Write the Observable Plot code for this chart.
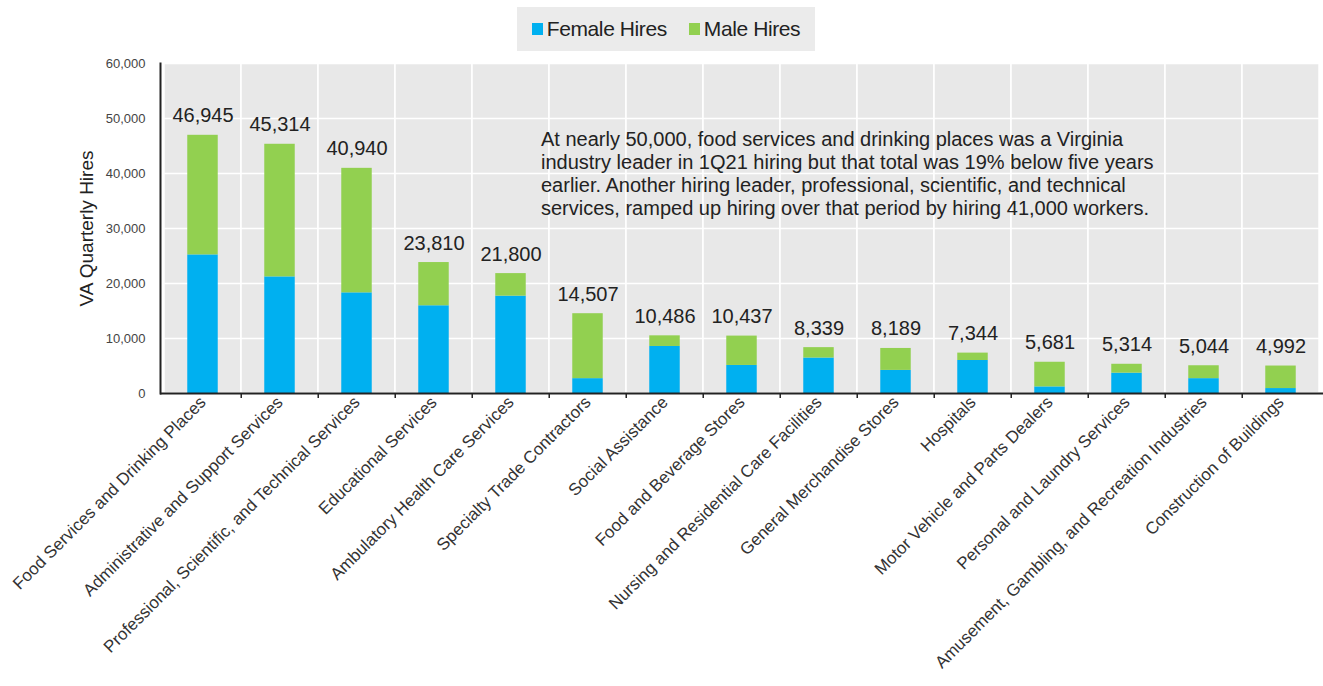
<!DOCTYPE html>
<html>
<head>
<meta charset="utf-8">
<script src="https://cdn.jsdelivr.net/npm/d3@7"></script>
<script src="https://cdn.jsdelivr.net/npm/@observablehq/plot@0.6"></script>
<style>
  html, body { margin: 0; padding: 0; background: #fff; }
  body { width: 1323px; height: 686px; position: relative; overflow: hidden; font-family: "Liberation Sans", Arial, sans-serif; }
  #legend { position: absolute; left: 517px; top: 7px; width: 298px; height: 44px; background: #ebebeb; display: flex; align-items: center; justify-content: center; font-size: 21px; color: #222; letter-spacing: -0.4px; }
  #legend .sw { display: inline-block; width: 11px; height: 12px; margin-right: 4px; }
  #legend .item { display: flex; align-items: center; }
  #chart { position: absolute; left: 0; top: 55px; }
</style>
</head>
<body>
<div id="legend"></div>
<div id="chart"></div>
<script>
const categories = [
  "Food Services and Drinking Places",
  "Administrative and Support Services",
  "Professional, Scientific, and Technical Services",
  "Educational Services",
  "Ambulatory Health Care Services",
  "Specialty Trade Contractors",
  "Social Assistance",
  "Food and Beverage Stores",
  "Nursing and Residential Care Facilities",
  "General Merchandise Stores",
  "Hospitals",
  "Motor Vehicle and Parts Dealers",
  "Personal and Laundry Services",
  "Amusement, Gambling, and Recreation Industries",
  "Construction of Buildings"
];
const totalHires = [46945, 45314, 40940, 23810, 21800, 14507, 10486, 10437, 8339, 8189, 7344, 5681, 5314, 5044, 4992];
const femaleHires = [25200, 21200, 18300, 15950, 17700, 2700, 8550, 5100, 6450, 4200, 6000, 1200, 3700, 2700, 900];
const maleHires = [21745, 24114, 22640, 7860, 4100, 11807, 1936, 5337, 1889, 3989, 1344, 4481, 1614, 2344, 4092];
const seriesNames = ["Female Hires", "Male Hires"];
const seriesColors = ["#00b0f0", "#92d050"];
const yTicks = [0, 10000, 20000, 30000, 40000, 50000, 60000];
const yTitle = "VA Quarterly Hires";
const annotation = "At nearly 50,000, food services and drinking places was a Virginia\nindustry leader in 1Q21 hiring but that total was 19% below five years\nearlier. Another hiring leader, professional, scientific, and technical\nservices, ramped up hiring over that period by hiring 41,000 workers.";

const rows = [];
categories.forEach((c, i) => {
  rows.push({category: c, series: seriesNames[0], value: femaleHires[i]});
  rows.push({category: c, series: seriesNames[1], value: maleHires[i]});
});
const totals = categories.map((c, i) => ({category: c, total: totalHires[i]}));
const fmt = d3.format(",");

// legend
const legend = document.getElementById("legend");
seriesNames.forEach((s, i) => {
  const item = document.createElement("span");
  item.className = "item";
  item.style.marginRight = i === 0 ? "22px" : "0";
  const sw = document.createElement("span");
  sw.className = "sw";
  sw.style.background = seriesColors[i];
  item.appendChild(sw);
  item.appendChild(document.createTextNode(s));
  legend.appendChild(item);
});

const W = 1323, H = 631, ML = 160, MR = 0, MT = 8, MB = 293;
const step = (W - ML - MR) / categories.length;
const barW = 31;
const inset = (step - barW) / 2;

const chart = Plot.plot({
  width: W,
  height: H,
  marginLeft: ML,
  marginRight: MR,
  marginTop: MT,
  marginBottom: MB,
  style: {fontFamily: "Liberation Sans, Arial, sans-serif", color: "#222", background: "transparent"},
  x: {domain: categories, paddingInner: 0, paddingOuter: 0, label: null},
  y: {domain: [0, 60000], label: null},
  color: {domain: seriesNames, range: seriesColors},
  marks: [
    Plot.cell(categories, {x: d => d, fill: "#e8e8e8", stroke: "white", strokeWidth: 1.5, inset: 0}),
    Plot.gridY(yTicks, {stroke: "white", strokeOpacity: 1, strokeWidth: 1.5}),
    Plot.barY(rows, {x: "category", y: "value", fill: "series", insetLeft: inset, insetRight: inset}),
    Plot.ruleY([0], {stroke: "#222", strokeWidth: 2}),
    Plot.frame({anchor: "left", stroke: "#222", strokeWidth: 2}),
    Plot.ruleX(categories.slice(1), {x: d => d, dx: -step / 2, y1: 0, y2: 0, insetBottom: -5, stroke: "#222", strokeWidth: 1.5}),
    Plot.text(totals, {x: "category", y: "total", text: d => fmt(d.total), lineAnchor: "bottom", dy: -13, fontSize: 20, fill: "#222"}),
    Plot.text([annotation], {x: () => categories[5], y: () => 48000, text: d => d, textAnchor: "start", lineAnchor: "top", dx: -47, fontSize: 20, lineHeight: 1.15, fill: "#222"}),
    Plot.axisY(yTicks, {tickSize: 0, tickPadding: 15, tickFormat: fmt, fontSize: 13, fill: "#444", label: null}),
    Plot.text([yTitle], {frameAnchor: "left", textAnchor: "middle", rotate: -90, dx: -74, text: d => d, fontSize: 19, fill: "#222"}),
    Plot.axisX({tickSize: 0, tickRotate: -45, tickPadding: 6, fontSize: 17, fill: "#333", label: null})
  ]
});
document.getElementById("chart").appendChild(chart);
</script>
</body>
</html>
